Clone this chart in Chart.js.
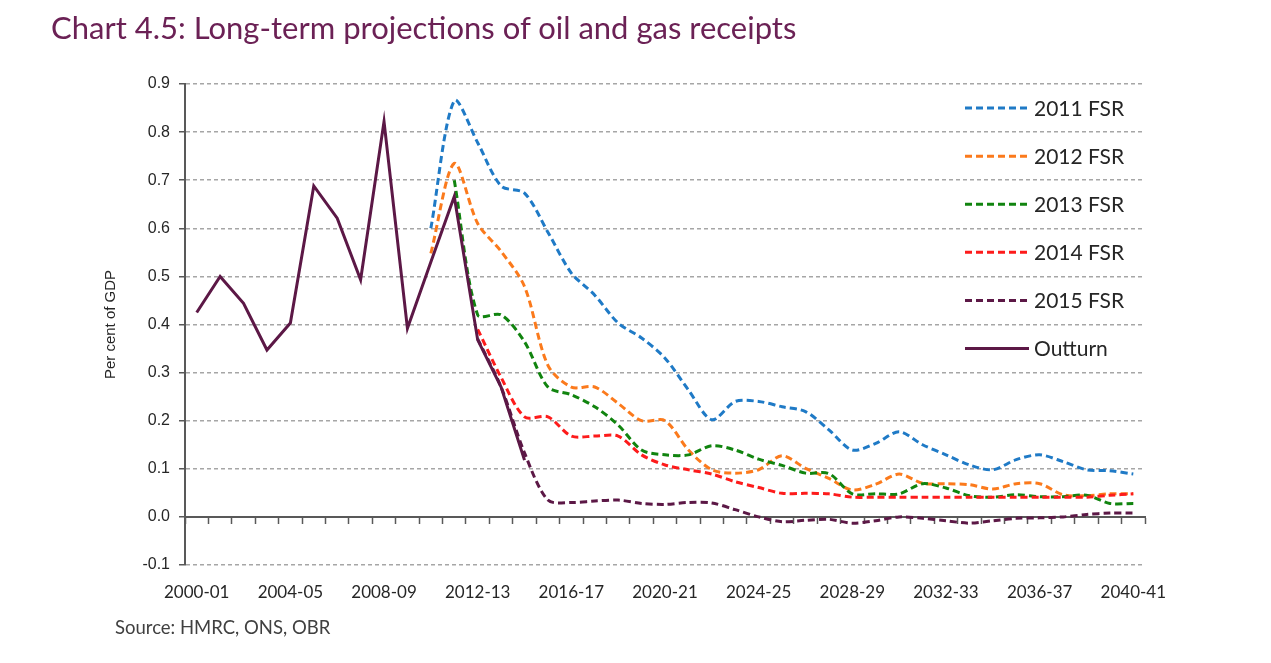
<!DOCTYPE html>
<html>
<head>
<meta charset="utf-8">
<script src="https://cdn.jsdelivr.net/npm/chart.js@4.4.1/dist/chart.umd.min.js"></script>
<style>
  html, body { margin: 0; padding: 0; background: #fff; }
  #wrap { position: relative; width: 1271px; height: 663px; }
  #chart { position: absolute; left: 0; top: 0; }
  .title { position: absolute; left: 51px; top: 8px; font-family: Lato, "Open Sans", sans-serif; font-size: 31px; color: #6b2155; white-space: nowrap; }
  .source { position: absolute; left: 115px; top: 616px; font-family: Lato, "Open Sans", sans-serif; font-size: 18.5px; color: #404040; white-space: nowrap; }
</style>
</head>
<body>
<div id="wrap">
  <canvas id="chart" width="1271" height="663"></canvas>
  <div class="title">Chart 4.5: Long-term projections of oil and gas receipts</div>
  <div class="source">Source: HMRC, ONS, OBR</div>
</div>
<script>
const years = ['2000-01','2001-02','2002-03','2003-04','2004-05','2005-06','2006-07','2007-08','2008-09','2009-10',
  '2010-11','2011-12','2012-13','2013-14','2014-15','2015-16','2016-17','2017-18','2018-19','2019-20',
  '2020-21','2021-22','2022-23','2023-24','2024-25','2025-26','2026-27','2027-28','2028-29','2029-30',
  '2030-31','2031-32','2032-33','2033-34','2034-35','2035-36','2036-37','2037-38','2038-39','2039-40','2040-41'];

// outturn from 2000-01
const outturn = [0.425, 0.50, 0.444, 0.347, 0.403, 0.688, 0.621, 0.493, 0.822, 0.392,
  0.53, 0.666, 0.368, 0.27, 0.118];

// projections, each with its first year
const fsr2011Start = '2010-11';
const fsr2011 = [0.60, 0.865, 0.778, 0.688, 0.673, 0.592, 0.507, 0.461, 0.403, 0.372,
  0.33, 0.264, 0.202, 0.240, 0.240, 0.229, 0.219, 0.181, 0.139, 0.153,
  0.177, 0.150, 0.129, 0.108, 0.098, 0.119, 0.129, 0.115, 0.098, 0.096, 0.089];

const fsr2012Start = '2010-11';
const fsr2012 = [0.548, 0.735, 0.61, 0.552, 0.479, 0.315, 0.27, 0.27, 0.236, 0.20,
  0.20, 0.139, 0.098, 0.091, 0.098, 0.127, 0.101, 0.080, 0.056, 0.068,
  0.089, 0.07, 0.069, 0.067, 0.058, 0.069, 0.069, 0.046, 0.044, 0.048, 0.048];

const fsr2013Start = '2011-12';
const fsr2013 = [0.70, 0.42, 0.42, 0.364, 0.27, 0.254, 0.229, 0.191, 0.139, 0.129,
  0.129, 0.148, 0.139, 0.12, 0.107, 0.091, 0.09, 0.048, 0.048, 0.048,
  0.069, 0.06, 0.044, 0.041, 0.046, 0.042, 0.042, 0.045, 0.028, 0.028];

const fsr2014Start = '2012-13';
const fsr2014 = [0.39, 0.29, 0.208, 0.208, 0.168, 0.168, 0.168, 0.129, 0.108, 0.098,
  0.089, 0.073, 0.061, 0.049, 0.049, 0.048, 0.041, 0.041, 0.041, 0.041,
  0.041, 0.041, 0.041, 0.041, 0.041, 0.041, 0.041, 0.045, 0.048];

const fsr2015Start = '2012-13';
const fsr2015 = [0.37, 0.27, 0.133, 0.035, 0.030, 0.033, 0.035, 0.028, 0.026, 0.03,
  0.029, 0.015, 0.0, -0.01, -0.007, -0.005, -0.013, -0.008, 0.0, -0.003,
  -0.008, -0.013, -0.008, -0.003, -0.002, 0.0, 0.005, 0.008, 0.008];

const yTicks = [-0.1, 0.0, 0.1, 0.2, 0.3, 0.4, 0.5, 0.6, 0.7, 0.8, 0.9];

// put a series on the full year axis
function place(start, values) {
  const out = years.map(() => null);
  const s = years.indexOf(start);
  values.forEach((v, i) => { out[s + i] = v; });
  return out;
}

function dashed(label, data, color, order) {
  return {
    label, data, order,
    borderColor: color,
    backgroundColor: color,
    borderWidth: 3,
    borderDash: [7, 4],
    pointRadius: 0,
    tension: 0.3,
    fill: false
  };
}

const datasets = [
  dashed('2011 FSR', place(fsr2011Start, fsr2011), '#1f7ac6', 5),
  dashed('2012 FSR', place(fsr2012Start, fsr2012), '#fb7a1c', 4),
  dashed('2013 FSR', place(fsr2013Start, fsr2013), '#11840f', 3),
  dashed('2014 FSR', place(fsr2014Start, fsr2014), '#fd1b1b', 2),
  dashed('2015 FSR', place(fsr2015Start, fsr2015), '#5c1846', 1),
  {
    label: 'Outturn',
    data: place(years[0], outturn),
    order: 0,
    borderColor: '#5c1846',
    backgroundColor: '#5c1846',
    borderWidth: 3,
    pointRadius: 0,
    tension: 0,
    fill: false
  }
];

// legend drawn inside the plot area, one row per gridline band
const insideLegend = {
  id: 'insideLegend',
  afterDatasetsDraw(chart) {
    const ctx = chart.ctx;
    const y = chart.scales.y;
    const x0 = chart.chartArea.right - 180;
    ctx.save();
    ctx.font = '21px Lato, "Open Sans", sans-serif';
    ctx.textBaseline = 'middle';
    ctx.fillStyle = '#262626';
    chart.data.datasets.forEach((ds, i) => {
      const yy = y.getPixelForValue(0.85 - 0.1 * i);
      ctx.beginPath();
      ctx.strokeStyle = ds.borderColor;
      ctx.lineWidth = 3;
      ctx.setLineDash(ds.borderDash || []);
      ctx.moveTo(x0, yy);
      ctx.lineTo(x0 + 64, yy);
      ctx.stroke();
      ctx.setLineDash([]);
      ctx.fillText(ds.label, x0 + 69, yy + 1);
    });
    ctx.restore();
  }
};

new Chart(document.getElementById('chart'), {
  type: 'line',
  data: { labels: years, datasets },
  plugins: [insideLegend],
  options: {
    responsive: false,
    animation: false,
    layout: { padding: { left: 95, top: 84, right: 126, bottom: 63 } },
    plugins: {
      legend: { display: false },
      title: { display: false },
      tooltip: { enabled: false }
    },
    scales: {
      x: {
        type: 'category',
        position: 'bottom',
        offset: true,
        grid: { display: false },
        border: { display: false },
        ticks: {
          autoSkip: false,
          maxRotation: 0,
          padding: 9,
          color: '#262626',
          font: { family: 'Lato, "Open Sans", sans-serif', size: 17 },
          callback: (v, i) => (i % 4 === 0 ? years[i] : '')
        },
        afterFit: s => { s.height = 35; }
      },
      x2: {
        type: 'category',
        labels: years,
        position: { y: 0 },
        offset: true,
        grid: {
          offset: true,
          drawOnChartArea: false,
          drawTicks: true,
          tickLength: 6,
          tickColor: '#595959',
          tickWidth: 1.5,
          tickBorderDash: []
        },
        border: { display: true, color: '#595959', width: 2 },
        ticks: { display: false }
      },
      y: {
        min: -0.1,
        max: 0.9,
        afterBuildTicks: s => { s.ticks = yTicks.map(v => ({ value: v })); },
        afterFit: s => { s.width = 90; },
        grid: {
          color: '#a6a6a6',
          lineWidth: 1.5,
          drawTicks: true,
          tickLength: 6,
          tickColor: '#595959',
          tickWidth: 1.5,
          tickBorderDash: []
        },
        border: { display: true, color: '#595959', width: 2, dash: [4, 3] },
        ticks: {
          padding: 9,
          color: '#262626',
          font: { family: '"Liberation Sans", Arial, sans-serif', size: 16 },
          callback: v => v.toFixed(1)
        },
        title: {
          display: true,
          text: 'Per cent of GDP',
          color: '#262626',
          padding: { top: 7, bottom: 0 },
          font: { family: '"Liberation Sans", Arial, sans-serif', size: 15 }
        }
      }
    }
  }
});
</script>
</body>
</html>
